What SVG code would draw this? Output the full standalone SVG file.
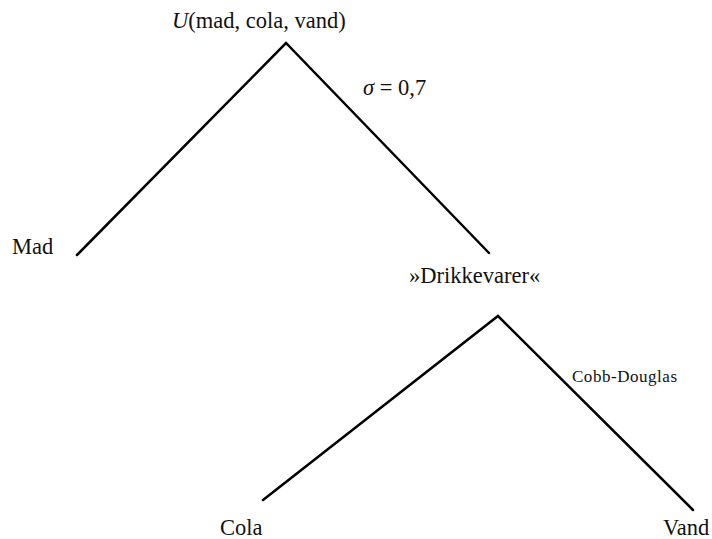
<svg xmlns="http://www.w3.org/2000/svg" width="712" height="539" viewBox="0 0 712 539">
<style>
.t{font-family:"Liberation Serif","Times New Roman",serif;font-size:22.5px;fill:#111}
.s{font-family:"Liberation Serif","Times New Roman",serif;font-size:17px;fill:#111}
.l{stroke:#000;stroke-width:2.5;fill:none;stroke-linecap:round;stroke-linejoin:miter}
</style>
<rect width="712" height="539" fill="#fff"/>
<g id="connectors">
<polyline class="l" points="77,255 286,43 489,253"/>
<polyline class="l" points="263,500 498,316 693,510"/>
<text class="t" x="363" y="95"><tspan font-style="italic">σ</tspan> = 0,7</text>
<text class="s" x="572" y="382" textLength="105">Cobb-Douglas</text>
</g>
<g id="n-u"><text class="t" x="172" y="28"><tspan font-style="italic">U</tspan>(mad, cola, vand)</text></g>
<g id="n-mad"><text class="t" x="12" y="254">Mad</text></g>
<g id="n-drikkevarer"><text class="t" x="409" y="283">»Drikkevarer«</text></g>
<g id="n-cola"><text class="t" x="220" y="535">Cola</text></g>
<g id="n-vand"><text class="t" x="663" y="535">Vand</text></g>
</svg>
